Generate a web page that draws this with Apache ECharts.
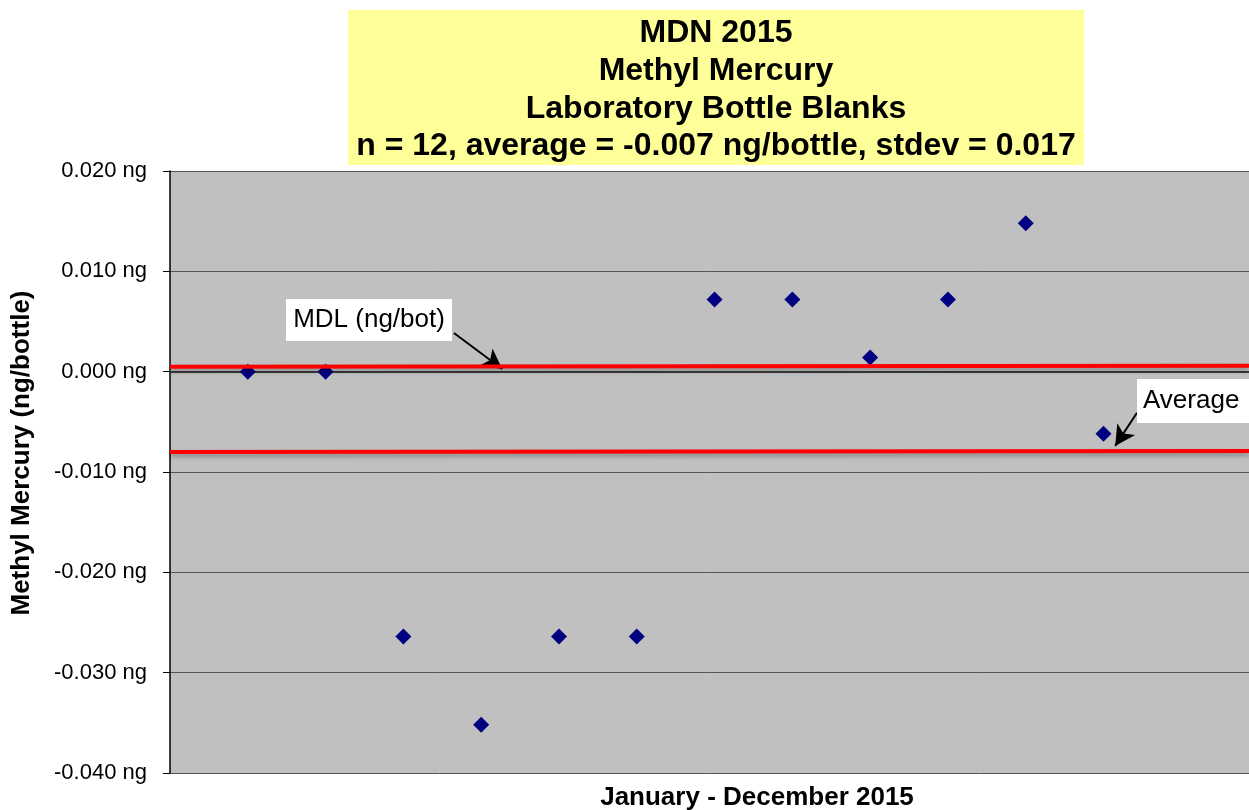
<!DOCTYPE html>
<html><head><meta charset="utf-8">
<script src="https://cdn.jsdelivr.net/npm/echarts@6/dist/echarts.min.js"></script>
<style>html,body{margin:0;padding:0;background:#fff}#c{width:1249px;height:810px}</style>
</head><body><div id="c"></div>
<script>
// ---- data ----
const titleLines = ['MDN 2015', 'Methyl Mercury', 'Laboratory Bottle Blanks', 'n = 12, average = -0.007 ng/bottle, stdev = 0.017'];
const yAxisTitle = 'Methyl Mercury (ng/bottle)';
const xAxisTitle = 'January - December 2015';
const sampleIndex = [1, 2, 3, 4, 5, 6, 7, 8, 9, 10, 11, 12];
const blankValues = [0.0000, 0.0000, -0.0264, -0.0352, -0.0264, -0.0264, 0.0072, 0.0072, 0.0014, 0.0072, 0.0148, -0.0062];
const mdlX = [0, 13.87];
const mdlY = [0.0005, 0.0006];
const avgX = [0, 13.87];
const avgY = [-0.0080, -0.0079];
const yMin = -0.04, yMax = 0.02, yStep = 0.01;
const xMin = 0, xMax = 13.87;
const mdlLabel = 'MDL (ng/bot)';
const avgLabel = 'Average';
const mdlArrow = [[3.65, 0.00385], [4.27, 0.00027]];
const avgArrow = [[12.43, -0.0041], [12.15, -0.0074]];

const FONT = "'Liberation Sans', Arial, sans-serif";
const chart = echarts.init(document.getElementById('c'), null, {renderer: 'canvas'});

const scatterData = sampleIndex.map((x, i) => [x, blankValues[i]]);
const mdlData = mdlX.map((x, i) => [x, mdlY[i]]);
const avgData = avgX.map((x, i) => [x, avgY[i]]);

const redStyle = {color: '#FF0000', width: 4, shadowColor: 'rgba(0,0,0,0.3)', shadowBlur: 4, shadowOffsetY: 3};

chart.setOption({
  animation: false,
  grid: {left: 170, top: 171, right: 0, bottom: 37, show: true, backgroundColor: '#C0C0C0', borderWidth: 0},
  xAxis: {
    type: 'value', min: xMin, max: xMax,
    axisLine: {show: true, onZero: true, lineStyle: {color: '#3a3a3a', width: 2}},
    axisTick: {show: false}, axisLabel: {show: false}, splitLine: {show: false}
  },
  yAxis: {
    type: 'value', min: yMin, max: yMax, interval: yStep,
    axisLine: {show: true, lineStyle: {color: '#000', width: 1.5}},
    axisTick: {show: true, inside: false, length: 7, lineStyle: {color: '#000'}},
    axisLabel: {
      margin: 23, color: '#000', fontFamily: FONT, fontSize: 22,
      formatter: v => v.toFixed(3) + ' ng'
    },
    splitLine: {show: true, lineStyle: {color: '#555', width: 1}}
  },
  series: [
    {
      type: 'scatter', data: scatterData, symbol: 'diamond', symbolSize: 16, z: 3,
      itemStyle: {color: '#000080', opacity: 1}
    },
    {type: 'line', data: mdlData, symbol: 'none', silent: true, z: 5, lineStyle: redStyle},
    {type: 'line', data: avgData, symbol: 'none', silent: true, z: 5, lineStyle: redStyle},
    {
      type: 'line', data: [], z: 6,
      markLine: {
        silent: true, animation: false,
        symbol: ['none', 'arrow'], symbolSize: [16, 20],
        label: {show: false},
        lineStyle: {color: '#000', width: 2, type: 'solid'},
        data: [
          [{coord: mdlArrow[0]}, {coord: mdlArrow[1]}],
          [{coord: avgArrow[0]}, {coord: avgArrow[1]}]
        ]
      }
    }
  ],
  graphic: [
    {type: 'rect', z: 1, shape: {x: 348, y: 10, width: 736, height: 155}, style: {fill: '#FFFF99'}},
    {type: 'text', z: 2, x: 716, y: 90, style: {
      text: titleLines.join('\n'), font: 'bold 32px ' + FONT, fill: '#000',
      align: 'center', verticalAlign: 'middle', lineHeight: 37.7
    }},
    {type: 'text', z: 2, x: 22, y: 453, rotation: Math.PI / 2, style: {
      text: yAxisTitle, font: 'bold 26px ' + FONT, fill: '#000', align: 'center', verticalAlign: 'middle'
    }},
    {type: 'text', z: 2, x: 757, y: 798, style: {
      text: xAxisTitle, font: 'bold 26px ' + FONT, fill: '#000', align: 'center', verticalAlign: 'middle'
    }},
    {type: 'rect', z: 100, shape: {x: 286, y: 299, width: 166, height: 42}, style: {fill: '#fff'}},
    {type: 'text', z: 101, x: 369, y: 320, style: {
      text: mdlLabel, font: '26px ' + FONT, fill: '#000', align: 'center', verticalAlign: 'middle'
    }},
    {type: 'rect', z: 100, shape: {x: 1137, y: 379, width: 120, height: 44}, style: {fill: '#fff'}},
    {type: 'text', z: 101, x: 1143, y: 401, style: {
      text: avgLabel, font: '26px ' + FONT, fill: '#000', align: 'left', verticalAlign: 'middle'
    }}
  ]
});
</script>
</body></html>
